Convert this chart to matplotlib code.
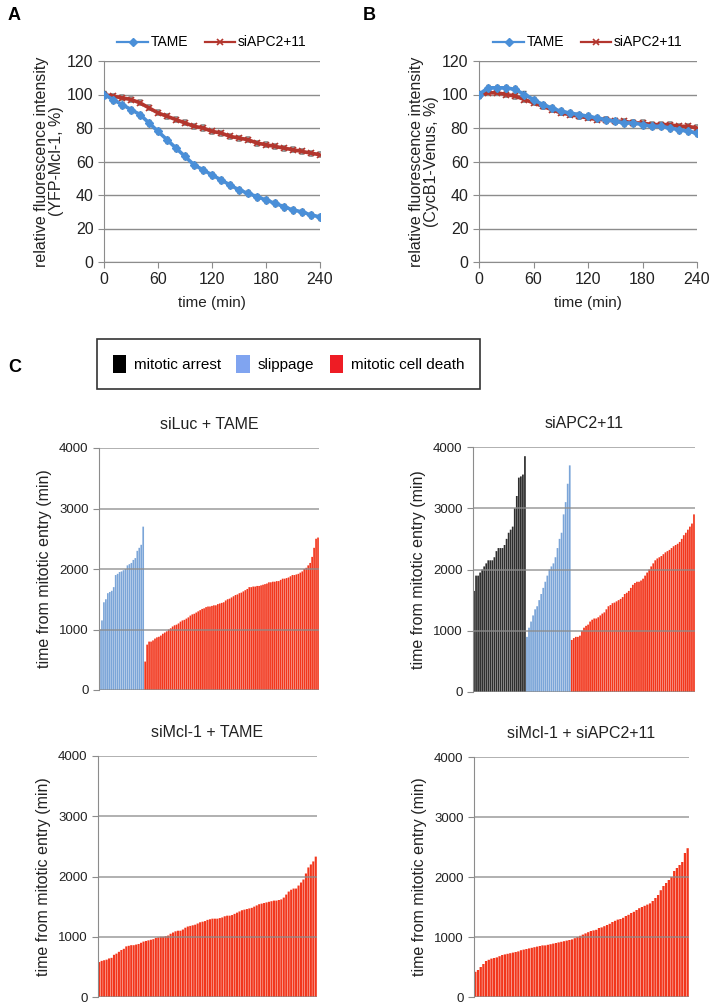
import matplotlib
matplotlib.use("agg")
import numpy as np
import matplotlib.pyplot as plt
from matplotlib.patches import Patch
from matplotlib.lines import Line2D

plt.rcParams['font.family'] = ['Liberation Sans', 'DejaVu Sans']

W, H = 709, 1006

# ---- panels A/B: fluorescence time courses (read every 10 min) ----
time_min = [0, 10, 20, 30, 40, 50, 60, 70, 80, 90, 100, 110, 120,
            130, 140, 150, 160, 170, 180, 190, 200, 210, 220, 230, 240]
mcl1_tame = [100, 97, 94, 91, 88, 83, 78, 73, 68, 63, 58, 55, 52,
             49, 46, 43, 41, 39, 37, 35, 33, 31, 30, 28, 27]
mcl1_siapc = [100, 99, 98, 97, 95, 92, 89, 87, 85, 83, 81, 80, 78,
              77, 75, 74, 73, 71, 70, 69, 68, 67, 66, 65, 64]
cycb_tame = [100, 104, 104, 104, 103, 100, 97, 94, 92, 90, 89, 88, 87,
             86, 85, 84, 83, 83, 82, 81, 81, 80, 79, 78, 77]
cycb_siapc = [100, 101, 101, 100, 99, 97, 95, 93, 91, 89, 88, 87, 86,
              85, 85, 84, 84, 83, 83, 82, 82, 82, 81, 81, 80]

# ---- panel C: time from mitotic entry per cell, sorted ----
luc_slip = [1000, 1150, 1450, 1500, 1600, 1620, 1640, 1700, 1900, 1920, 1950,
            1960, 1980, 2000, 2060, 2080, 2100, 2150, 2180, 2300, 2350, 2400, 2700]
luc_death = [470, 750, 800, 800, 820, 850, 870, 880, 900, 930, 950, 970, 1000,
             1020, 1050, 1070, 1080, 1100, 1130, 1150, 1160, 1180, 1200, 1230,
             1250, 1260, 1280, 1300, 1320, 1340, 1350, 1370, 1380, 1380, 1390,
             1400, 1400, 1420, 1430, 1440, 1450, 1480, 1500, 1510, 1530, 1550,
             1570, 1580, 1600, 1610, 1630, 1650, 1670, 1700, 1700, 1710, 1710,
             1720, 1720, 1730, 1740, 1750, 1760, 1780, 1780, 1790, 1790, 1800,
             1800, 1820, 1840, 1840, 1850, 1860, 1880, 1900, 1900, 1910, 1920,
             1940, 1960, 2000, 2020, 2060, 2100, 2200, 2350, 2500, 2520]
apc_arrest = [1650, 1900, 1900, 1950, 2000, 2050, 2100, 2150, 2150, 2150, 2200,
              2300, 2350, 2350, 2350, 2400, 2500, 2600, 2650, 2700, 3000, 3200,
              3500, 3520, 3550, 3850]
apc_slip = [900, 1050, 1150, 1250, 1350, 1400, 1500, 1600, 1700, 1800, 1900,
            2000, 2050, 2100, 2200, 2350, 2500, 2600, 2900, 3100, 3400, 3700]
apc_death = [850, 880, 900, 900, 920, 1000, 1050, 1080, 1100, 1150, 1180, 1200,
             1200, 1220, 1250, 1280, 1300, 1350, 1400, 1420, 1450, 1460, 1480,
             1500, 1520, 1550, 1600, 1620, 1650, 1700, 1750, 1780, 1800, 1800,
             1820, 1850, 1900, 1950, 2000, 2050, 2100, 2150, 2180, 2200, 2220,
             2250, 2280, 2300, 2320, 2350, 2380, 2400, 2420, 2450, 2500, 2560,
             2600, 2650, 2700, 2750, 2900]
mcl_tame_death = [580, 600, 610, 620, 640, 650, 700, 720, 750, 780, 800, 840,
                  850, 860, 860, 870, 880, 900, 920, 930, 940, 950, 960, 980,
                  990, 1000, 1000, 1010, 1020, 1050, 1070, 1090, 1100, 1100,
                  1120, 1150, 1170, 1180, 1190, 1200, 1220, 1240, 1250, 1260,
                  1280, 1290, 1300, 1300, 1300, 1310, 1320, 1340, 1350, 1350,
                  1360, 1380, 1400, 1420, 1440, 1450, 1460, 1470, 1480, 1500,
                  1520, 1540, 1550, 1560, 1570, 1580, 1590, 1600, 1600, 1610,
                  1620, 1650, 1700, 1750, 1780, 1800, 1800, 1850, 1900, 1950,
                  2050, 2150, 2200, 2250, 2330]
mcl_apc_death = [420, 450, 500, 550, 600, 620, 640, 650, 660, 680, 700, 710,
                 720, 730, 740, 750, 760, 780, 790, 800, 810, 820, 830, 840,
                 850, 860, 860, 870, 880, 890, 900, 910, 920, 930, 940, 950,
                 960, 980, 1000, 1020, 1040, 1060, 1080, 1100, 1110, 1120,
                 1150, 1160, 1180, 1200, 1220, 1250, 1270, 1290, 1300, 1320,
                 1350, 1370, 1400, 1420, 1450, 1480, 1500, 1520, 1540, 1560,
                 1600, 1650, 1700, 1780, 1850, 1900, 1950, 2000, 2100, 2150,
                 2200, 2250, 2400, 2480]

C_ARREST = '#2e2e2e'
C_SLIP = '#7ba5d8'
C_DEATH = '#f2361c'
C_TAME = '#4a8fd8'
C_APC = '#b3362e'
GRID = '#8c8c8c'
TXT = '#222222'


def px_axes(fig, l, t, r, b):
    return fig.add_axes([l / W, 1 - b / H, (r - l) / W, (b - t) / H])


def line_panel(ax, tame, siapc, ylabel):
    ax.errorbar(time_min, siapc, yerr=1.5, color=C_APC, ecolor='#8a8a8a',
                elinewidth=1.0, capsize=1.5, marker='x', markersize=4,
                mew=1.2, lw=2.6, zorder=2)
    ax.errorbar(time_min, tame, yerr=1.8, color=C_TAME, ecolor='#555555',
                elinewidth=1.0, capsize=1.5, marker='D', markersize=4,
                lw=2.6, zorder=3)
    ax.set_xlim(0, 240)
    ax.set_ylim(0, 120)
    ax.set_xticks([0, 60, 120, 180, 240])
    ax.set_yticks(range(0, 121, 20))
    ax.yaxis.grid(True, color=GRID, lw=1)
    ax.set_axisbelow(True)
    for s in ['top', 'right']:
        ax.spines[s].set_visible(False)
    for s in ['left', 'bottom']:
        ax.spines[s].set_color(GRID)
    ax.tick_params(colors=GRID, labelcolor=TXT, labelsize=11.5,
                   length=4, direction='out')
    ax.set_xlabel('time (min)', fontsize=11, color=TXT, labelpad=6)
    ax.set_ylabel(ylabel, fontsize=11.5, color=TXT, linespacing=1.05,
                  labelpad=2)
    handles = [Line2D([], [], color=C_TAME, marker='D', markersize=4, lw=1.6),
               Line2D([], [], color=C_APC, marker='x', markersize=4,
                      mew=1.2, lw=1.6)]
    ax.legend(handles, ['TAME', 'siAPC2+11'], loc='lower center',
              bbox_to_anchor=(0.5, 1.03), ncol=2, frameon=False,
              fontsize=10, handlelength=2.2, handletextpad=0.2,
              columnspacing=1.2, borderaxespad=0)


def bar_panel(ax, groups, title):
    vals = []
    cols = []
    for v, c in groups:
        vals += v
        cols += [c] * len(v)
    x = np.arange(len(vals))
    bars = ax.bar(x, vals, width=0.85, color=cols, lw=0, zorder=2)
    for b in bars:
        b.set_snap(False)
    ax.set_xlim(-0.5, len(vals) - 0.5)
    ax.set_ylim(0, 4000)
    ax.set_yticks([0, 1000, 2000, 3000, 4000])
    ax.set_xticks([])
    ax.yaxis.grid(True, color=GRID, lw=1.2, alpha=0.8, zorder=3)
    ax.set_axisbelow(False)
    for s in ['top', 'right', 'bottom']:
        ax.spines[s].set_visible(False)
    ax.spines['left'].set_color(GRID)
    ax.tick_params(axis='y', colors=GRID, labelcolor=TXT, labelsize=9.5,
                   length=4)
    ax.set_ylabel('time from mitotic entry (min)', fontsize=11.5,
                  color=TXT, labelpad=5)
    ax.set_title(title, fontsize=11.5, color=TXT, pad=14)


fig = plt.figure(figsize=(W / 100, H / 100), dpi=100)

axA = px_axes(fig, 104, 61, 320, 262)
line_panel(axA, mcl1_tame, mcl1_siapc,
           'relative fluorescence intensity\n(YFP-Mcl-1, %)')
axB = px_axes(fig, 479, 61, 697, 262)
line_panel(axB, cycb_tame, cycb_siapc,
           'relative fluorescence intensity\n(CycB1-Venus, %)')

ax1 = px_axes(fig, 99, 448, 319, 690)
bar_panel(ax1, [(luc_slip, C_SLIP), (luc_death, C_DEATH)], 'siLuc + TAME')
ax2 = px_axes(fig, 473, 447, 695, 692)
bar_panel(ax2, [(apc_arrest, C_ARREST), (apc_slip, C_SLIP),
                (apc_death, C_DEATH)], 'siAPC2+11')
ax3 = px_axes(fig, 98, 756, 317, 997)
bar_panel(ax3, [(mcl_tame_death, C_DEATH)], 'siMcl-1 + TAME')
ax4 = px_axes(fig, 474, 757, 689, 997)
bar_panel(ax4, [(mcl_apc_death, C_DEATH)], 'siMcl-1 + siAPC2+11')

handles = [Patch(facecolor='#000000', edgecolor='none'),
           Patch(facecolor='#80a4f0', edgecolor='none'),
           Patch(facecolor='#ee1c24', edgecolor='none')]
leg = fig.legend(handles, ['mitotic arrest', 'slippage', 'mitotic cell death'],
                 loc='center', bbox_to_anchor=(288.5 / W, 1 - 364 / H),
                 ncol=3, fontsize=11, frameon=True, fancybox=False,
                 handlelength=0.9, handleheight=1.5, handletextpad=0.5,
                 columnspacing=1.0, borderpad=1.0, borderaxespad=0)
leg.get_frame().set_edgecolor('black')
leg.get_frame().set_linewidth(1.2)

for lab, x, y in [('A', 8, 20), ('B', 363, 20), ('C', 8, 372)]:
    fig.text(x / W, 1 - y / H, lab, fontsize=13, fontweight='bold')

fig.savefig('out.png', dpi=100)
